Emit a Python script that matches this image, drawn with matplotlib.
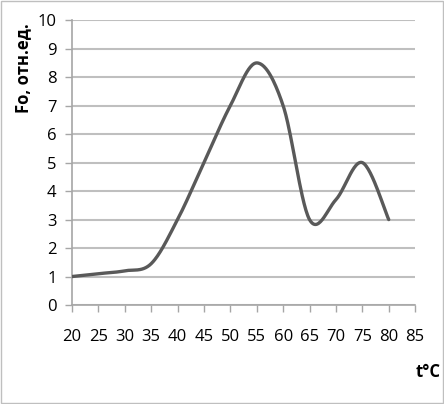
import matplotlib
matplotlib.use('Agg')
import matplotlib.pyplot as plt
from matplotlib.patches import Rectangle
import numpy as np

temps = [20, 25, 30, 35, 40, 45, 50, 55, 60, 65, 70, 75, 80]
fo = [1.0, 1.1, 1.2, 1.45, 3.0, 5.0, 7.0, 8.5, 7.0, 3.0, 3.7, 5.0, 3.0]
x_ticks = list(range(20, 90, 5))
y_ticks = list(range(0, 11))


def smooth(x, y, n=30):
    # Catmull-Rom style smoothing, like the "smoothed line" option in Excel
    x = np.asarray(x, float)
    y = np.asarray(y, float)
    xs, ys = [], []
    for i in range(len(x) - 1):
        p0 = np.array([x[max(i - 1, 0)], y[max(i - 1, 0)]])
        p1 = np.array([x[i], y[i]])
        p2 = np.array([x[i + 1], y[i + 1]])
        p3 = np.array([x[min(i + 2, len(x) - 1)], y[min(i + 2, len(x) - 1)]])
        c1 = p1 + (p2 - p0) / 6
        c2 = p2 - (p3 - p1) / 6
        t = np.linspace(0, 1, n)[:, None]
        pts = ((1 - t) ** 3) * p1 + 3 * ((1 - t) ** 2) * t * c1 + 3 * (1 - t) * t ** 2 * c2 + t ** 3 * p2
        xs.extend(pts[:, 0])
        ys.extend(pts[:, 1])
    return xs, ys


plt.rcParams['font.family'] = ['Open Sans', 'DejaVu Sans']

fig = plt.figure(figsize=(4.44, 4.04), dpi=100)
ax = fig.add_axes([0.162, 0.245, 0.773, 0.705])

sx, sy = smooth(temps, fo)
ax.plot(sx, sy, color='#595959', linewidth=2.4, solid_capstyle='round', zorder=3)

ax.set_xlim(20, 85)
ax.set_ylim(0, 10)
ax.set_xticks(x_ticks)
ax.set_yticks(y_ticks)
ax.tick_params(axis='both', labelsize=12, color='#a6a6a6', length=5, width=1, colors='#a6a6a6', labelcolor='black')
ax.tick_params(axis='x', pad=12)
ax.tick_params(axis='y', pad=6)
ax.grid(axis='y', color='#bfbfbf', linewidth=1.5)
ax.set_axisbelow(True)
for s in ['top', 'right']:
    ax.spines[s].set_visible(False)
for s in ['left', 'bottom']:
    ax.spines[s].set_color('#a6a6a6')
    ax.spines[s].set_linewidth(1.2)

fig.text(23 / 444, 1 - 68 / 404, 'Fo, отн.ед.', rotation=90, fontsize=12,
         fontweight='bold', ha='center', va='center')
fig.text(428 / 444, 1 - 372 / 404, 't°C', fontsize=12, fontweight='bold',
         ha='center', va='center')

fig.patches.append(Rectangle((0.002, 0.002), 0.996, 0.996, transform=fig.transFigure,
                             fill=False, edgecolor='#bfbfbf', linewidth=1))

fig.savefig('out.png', dpi=100)
